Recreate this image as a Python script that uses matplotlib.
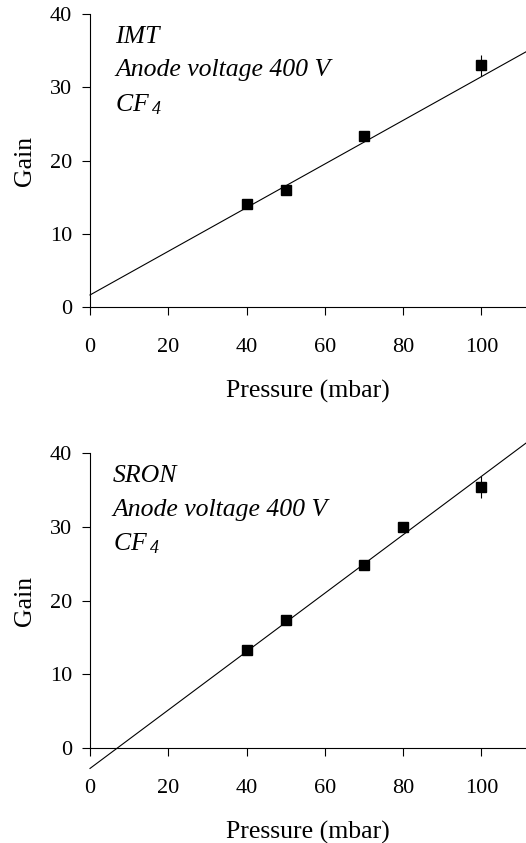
import numpy as np
import matplotlib
matplotlib.use("Agg")
import matplotlib.pyplot as plt

plt.rcParams.update({
    "font.family": "Liberation Serif",
    "mathtext.fontset": "custom",
    "mathtext.rm": "Liberation Serif:italic",
    "mathtext.it": "Liberation Serif:italic",
    "axes.spines.top": False,
    "axes.spines.right": False,
})

# IMT data
imt_pressure = [40, 50, 70, 100]
imt_gain     = [14.0, 16.0, 23.3, 33.0]
imt_err      = [0.0, 0.0, 0.0, 1.4]
imt_fit      = (0.298, 1.64)     # slope, intercept

# SRON data
sron_pressure = [40, 50, 70, 80, 100]
sron_gain     = [13.3, 17.4, 24.8, 30.0, 35.4]
sron_err      = [0.0, 0.0, 0.0, 0.0, 1.5]
sron_fit      = (0.396, -2.77)

x_ticks = [0, 20, 40, 60, 80, 100]
y_ticks = [0, 10, 20, 30, 40]
XMAX = 111.4

W, H = 526, 843
fig = plt.figure(figsize=(W / 100, H / 100), dpi=100)


def panel(rect, p, g, e, fit, lines, ypos, xtxt):
    ax = fig.add_axes(rect)
    xs = np.array([0, XMAX])
    ax.plot(xs, fit[0] * xs + fit[1], color="black", lw=0.8, clip_on=False)
    ax.errorbar(p, g, yerr=e, fmt="s", color="black", ms=7, elinewidth=0.8,
                capsize=0, zorder=3)
    ax.set_xlim(0, XMAX)
    ax.set_ylim(0, 40)
    ax.set_xticks(x_ticks)
    ax.set_yticks(y_ticks)
    ax.tick_params(direction="out", length=6, width=0.8, labelsize=16)
    ax.tick_params(axis="x", pad=16)
    ax.tick_params(axis="y", pad=7)
    for s in ("left", "bottom"):
        ax.spines[s].set_linewidth(0.8)
    ax.set_xlabel("Pressure (mbar)", fontsize=18.5, labelpad=17)
    ax.set_ylabel("Gain", fontsize=18.5, labelpad=10)
    for txt, y in zip(lines, ypos):
        ax.text(xtxt, y, txt, transform=ax.transAxes, fontsize=18.5,
                style="italic", va="baseline", ha="left")
    return ax


panel([90 / W, 1 - 307 / H, 436 / W, 293 / H],
      imt_pressure, imt_gain, imt_err, imt_fit,
      ["IMT", "Anode voltage 400 V", r"$CF_{\;4}$"],
      [0.902, 0.788, 0.667], 0.058)

panel([90 / W, 1 - 748 / H, 436 / W, 295 / H],
      sron_pressure, sron_gain, sron_err, sron_fit,
      ["SRON", "Anode voltage 400 V", r"$CF_{\;4}$"],
      [0.900, 0.787, 0.670], 0.052)

fig.savefig("out.png", dpi=100)
